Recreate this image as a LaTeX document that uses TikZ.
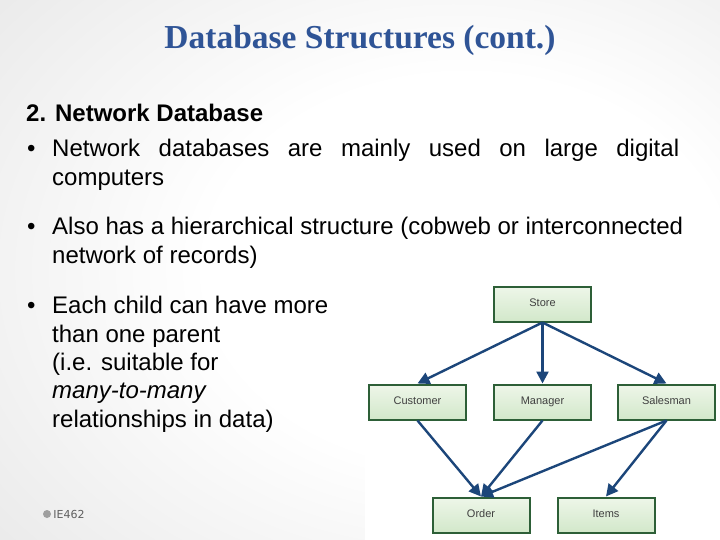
\documentclass[tikz,border=0pt]{standalone}
\usepackage{fontspec}
\setmainfont{Liberation Sans}
\newfontfamily\titlefont{Liberation Serif}
\newfontfamily\footfont{DejaVu Sans}
\usetikzlibrary{positioning,arrows.meta}
\definecolor{titleblue}{RGB}{47,84,150}
\definecolor{boxedge}{RGB}{45,95,55}
\definecolor{boxtop}{RGB}{238,246,233}
\definecolor{boxbot}{RGB}{210,232,202}
\definecolor{linkblue}{RGB}{28,70,122}
\definecolor{footgray}{RGB}{95,95,95}
\pgfdeclareradialshading{slidebg}{\pgfpoint{10bp}{0bp}}{color(0bp)=(white); color(18bp)=(white); color(70bp)=(gray!40)}
\tikzset{
  record/.style={draw=boxedge, line width=2pt, top color=boxtop, bottom color=boxbot,
    minimum width=97pt, minimum height=35pt, inner sep=0pt,
    text height=8pt, text depth=2.5pt,
    font=\fontsize{11}{12}\selectfont, text=black!75},
  link/.style={draw=linkblue, line width=2.4pt, -{Triangle[length=12pt,width=12pt]}},
  bodytext/.style={anchor=base west, inner sep=0pt, font=\fontsize{24}{29}\selectfont},
}
\begin{document}
\begin{tikzpicture}[x=1pt,y=-1pt]
  \useasboundingbox (0,0) rectangle (720,540);
  \shade[shading=slidebg] (0,0) rectangle (720,540);
  \fill[white] (365,282) rectangle (720,540);

  % title and text
  \node[anchor=base, inner sep=0pt, text=titleblue, font=\titlefont\bfseries\fontsize{33.5}{38}\selectfont] (title) at (360,49) {Database Structures (cont.)};
  \node[bodytext, font=\fontsize{24}{29}\selectfont\bfseries] (head) at (26,122) {2. Network Database};
  \node[bodytext] (dot1) at (27,157) {•};
  \node[bodytext] (l1a) at (52,157) {\makebox[627pt][s]{Network databases are mainly used on large digital}};
  \node[bodytext] (l1b) at (52,186) {computers};
  \node[bodytext] (dot2) at (27,234) {•};
  \node[bodytext] (l2a) at (52,234) {Also has a hierarchical structure (cobweb or interconnected};
  \node[bodytext] (l2b) at (52,263) {network of records)};
  \node[bodytext] (dot3) at (27,313) {•};
  \node[bodytext] (l3a) at (52,313) {Each child can have more};
  \node[bodytext] (l3b) at (52,342) {than one parent};
  \node[bodytext] (l3c) at (52,370) {(i.e. suitable for};
  \node[bodytext] (l3d) at (52,398) {\textit{many-to-many}};
  \node[bodytext] (l3e) at (52,427) {relationships in data)};

  % footer
  \node[circle, fill=gray!75, inner sep=0pt, minimum size=8pt] (footdot) at (47,514) {};
  \node[right=2pt of footdot, inner sep=0pt, text=footgray, font=\footfont\fontsize{11}{13}\selectfont] (foot) {IE462};

  % network of records
  \node[record] (store) at (542.5,304) {Store};
  \node[record, below=61pt of store] (mgr) {Manager};
  \node[record, left=26pt of mgr] (cust) {Customer};
  \node[record, right=25pt of mgr] (sales) {Salesman};
  \node[record] (order) at (481,515) {Order};
  \node[record, right=26pt of order] (items) {Items};

  \draw[link] (store.south) -- (cust.north);
  \draw[link] (store.south) -- (mgr.north);
  \draw[link] (store.south) -- (sales.north);
  \draw[link] (cust.south) -- (order.north);
  \draw[link] (mgr.south) -- (order.north);
  \draw[link] (sales.south) -- (order.north);
  \draw[link] (sales.south) -- (items.north);
\end{tikzpicture}
\end{document}
